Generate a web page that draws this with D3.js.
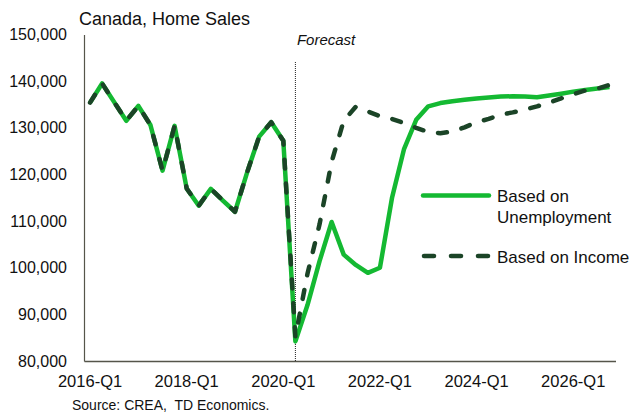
<!DOCTYPE html>
<html>
<head>
<meta charset="utf-8">
<script src="https://cdn.jsdelivr.net/npm/d3@7"></script>
<style>
  body { margin: 0; background: #fff; }
  svg { font-family: "Liberation Sans", Arial, sans-serif; }
</style>
</head>
<body>
<script>
// quarters 2016-Q1 .. 2026-Q4
const years = [2016, 2017, 2018, 2019, 2020, 2021, 2022, 2023, 2024, 2025, 2026];
const quarters = [];
years.forEach(y => [1, 2, 3, 4].forEach(q => quarters.push(y + "-Q" + q)));

const xTickLabels = ["2016-Q1", "2018-Q1", "2020-Q1", "2022-Q1", "2024-Q1", "2026-Q1"];
const yTicks = [80000, 90000, 100000, 110000, 120000, 130000, 140000, 150000];

// home sales, based on unemployment
const unemployment = [
  135400, 139500, 135500, 131500, 134700, 130600, 120800, 130400,
  117000, 113300, 116900, 114400, 112000, 120400, 128100, 131200,
  127200, 84200, 92000, 101400, 109800, 102800, 100600, 98900,
  100000, 115000, 125500, 131700, 134600, 135300, 135700, 136000,
  136300, 136500, 136700, 136750, 136700, 136550, 136900, 137300,
  137750, 138100, 138400, 138750
];

// home sales, based on income
const income = [
  135400, 139500, 135500, 131500, 134700, 130600, 120800, 130400,
  117000, 113300, 116900, 114400, 112000, 120400, 128100, 131200,
  127200, 85200, 98700, 109300, 122700, 131500, 134500, 133500,
  132500, 131900, 131000, 130000, 129100, 128850, 129200, 130100,
  131200, 131900, 132800, 133300, 133900, 134600, 135400, 136300,
  137200, 138000, 138400, 139200
];

const forecastStart = "2020-Q2";

const width = 629, height = 413;
const svg = d3.select("body").append("svg")
    .attr("width", width)
    .attr("height", height);

const x = d3.scaleBand().domain(quarters).range([84, 615.5]).padding(0);
const y = d3.scaleLinear().domain([80000, 150000]).range([361, 34.5]);
const cx = q => x(q) + x.bandwidth() / 2;

// axes
const yAxis = svg.append("g")
    .attr("transform", "translate(84,0)")
    .call(d3.axisLeft(y).tickValues(yTicks).tickSize(0).tickPadding(17)
        .tickFormat(d3.format(",")));
yAxis.select(".domain").attr("stroke", "#55554a").attr("stroke-width", 1.2);
yAxis.selectAll("text").attr("font-size", 16).attr("fill", "#111")
    .attr("font-family", "Liberation Sans, Arial, sans-serif");

const xAxis = svg.append("g")
    .attr("transform", "translate(0,361)")
    .call(d3.axisBottom(x).tickValues(xTickLabels).tickSize(0).tickPadding(14));
xAxis.select(".domain").attr("stroke", "#55554a").attr("stroke-width", 1.3);
xAxis.selectAll("text").attr("font-size", 16.5).attr("fill", "#111")
    .attr("font-family", "Liberation Sans, Arial, sans-serif");

// forecast divider
svg.append("line")
    .attr("x1", cx(forecastStart)).attr("x2", cx(forecastStart))
    .attr("y1", 62).attr("y2", 361)
    .attr("stroke", "#222").attr("stroke-width", 1)
    .attr("stroke-dasharray", "1,1");

svg.append("text")
    .attr("x", cx(forecastStart) + 1.5).attr("y", 45)
    .attr("font-size", 15).attr("font-style", "italic").attr("fill", "#111")
    .text("Forecast");

const line = d3.line()
    .x((d, i) => cx(quarters[i]))
    .y(d => y(d));

svg.append("path")
    .datum(unemployment)
    .attr("fill", "none")
    .attr("stroke", "#14b932")
    .attr("stroke-width", 4.5)
    .attr("stroke-linejoin", "round")
    .attr("d", line);

svg.append("path")
    .datum(income)
    .attr("fill", "none")
    .attr("stroke", "#1b4427")
    .attr("stroke-width", 4.5)
    .attr("stroke-linejoin", "round")
    .attr("stroke-linecap", "round")
    .attr("stroke-dasharray", "9,15")
    .attr("d", line);

// legend
const lg = svg.append("g");
lg.append("line")
    .attr("x1", 423).attr("x2", 489).attr("y1", 195.5).attr("y2", 195.5)
    .attr("stroke", "#14b932").attr("stroke-width", 4.5).attr("stroke-linecap", "round");
lg.append("text").attr("x", 497).attr("y", 202).attr("font-size", 17).attr("fill", "#111")
    .text("Based on");
lg.append("text").attr("x", 497).attr("y", 223).attr("font-size", 17).attr("fill", "#111")
    .text("Unemployment");
lg.append("line")
    .attr("x1", 424).attr("x2", 489).attr("y1", 256).attr("y2", 256)
    .attr("stroke", "#1b4427").attr("stroke-width", 4.5).attr("stroke-linecap", "round")
    .attr("stroke-dasharray", "10,17");
lg.append("text").attr("x", 497).attr("y", 262.5).attr("font-size", 17).attr("fill", "#111")
    .text("Based on Income");

// title and source
svg.append("text")
    .attr("x", 79).attr("y", 25)
    .attr("font-size", 18).attr("fill", "#111")
    .text("Canada, Home Sales");

svg.append("text")
    .attr("x", 72).attr("y", 410)
    .attr("font-size", 14).attr("fill", "#111")
    .attr("xml:space", "preserve")
    .style("white-space", "pre")
    .text("Source: CREA,  TD Economics.");
</script>
</body>
</html>
